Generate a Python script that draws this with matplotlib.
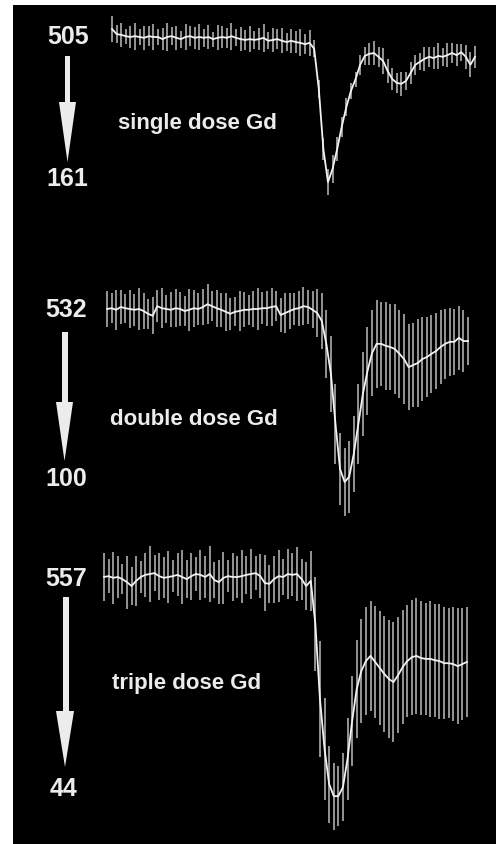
import matplotlib
matplotlib.use("Agg")
import matplotlib.pyplot as plt
from matplotlib.patches import Polygon, Rectangle
import numpy as np

# ---------------- data ----------------
labels = ["single dose Gd", "double dose Gd", "triple dose Gd"]
start_values = [505, 532, 557]
end_values = [161, 100, 44]

mean_single = [524, 512, 510, 507, 505, 507, 505, 503, 507, 505, 505, 500, 505, 507, 503, 500, 505, 507, 503, 505,
               503, 505, 500, 503, 505, 503, 507, 503, 500, 498, 500, 498, 500, 503, 496, 498, 500, 496, 493, 496,
               493, 491, 488, 491,
               477, 382, 239, 161, 192, 239, 292, 339, 377, 405, 439, 460, 465, 467, 458, 448, 424, 405, 396, 394,
               401, 420, 439, 446, 453, 458, 455, 460, 458, 462, 467, 462, 469, 458, 439, 458]
err_single = [30, 22, 28, 18, 26, 32, 20, 28, 24, 30, 18, 26, 34, 22, 28, 20, 30, 24, 26, 32,
              22, 28, 18, 30, 26, 24, 32, 20, 28, 24, 30, 22, 26, 34, 20, 28, 24, 30, 22, 28,
              26, 32, 24, 30,
              20, 22, 26, 30, 34, 28, 24, 22, 20, 18, 24, 22, 26, 28, 24, 30, 28, 26, 24, 28,
              22, 26, 24, 20, 28, 24, 26, 30, 22, 28, 24, 26, 20, 28, 30, 26]

mean_double = [532, 534, 530, 537, 534, 532, 530, 532, 527, 520, 515, 539, 534, 532, 530, 534, 532, 527, 530, 534,
               532, 537, 544, 539, 534, 530, 525, 520, 525, 527, 530, 530, 532, 532, 534, 534, 537, 539, 517, 522,
               527, 532, 534, 539, 537, 530,
               522, 502, 445, 370, 245, 132, 100, 113, 170, 245, 320, 377, 422, 445, 445, 440, 437, 432, 420, 407,
               387, 392, 397, 407, 412, 420, 427, 437, 445, 450, 450, 460, 452, 452]
err_double = [45, 38, 50, 42, 36, 48, 40, 52, 44, 38, 46, 40, 50, 36, 44, 48, 42, 38, 52, 46,
              40, 44, 50, 38, 46, 42, 48, 40, 36, 50, 44, 38, 46, 52, 40, 44, 48, 38, 42, 50,
              46, 40, 44, 48, 42, 46,
              60, 70, 85, 95, 100, 90, 85, 90, 95, 100, 105, 110, 108, 110, 105, 110, 108, 112, 110, 112,
              108, 105, 110, 104, 100, 98, 95, 92, 88, 85, 82, 80, 78, 60]

mean_triple = [557, 559, 555, 557, 552, 545, 536, 548, 557, 562, 564, 566, 559, 555, 557, 559, 562, 557, 552, 559,
               564, 562, 557, 564, 550, 545, 555, 559, 557, 557, 559, 562, 564, 566, 559, 543, 541, 552, 559, 557,
               564, 562, 564, 552, 536,
               548, 447, 272, 156, 74, 46, 46, 67, 133, 221, 296, 338, 361, 373, 359, 345, 331, 319, 312, 328,
               347, 361, 370, 373, 368, 366, 366, 363, 361, 356, 356, 354, 349, 354, 359]
err_triple = [55, 40, 60, 48, 35, 62, 45, 58, 38, 52, 65, 42, 55, 48, 60, 38, 50, 62, 45, 55,
              40, 58, 48, 65, 42, 52, 60, 38, 55, 48, 62, 45, 58, 40, 52, 65, 45, 55, 60, 42,
              58, 50, 62, 48, 55,
              70, 110, 135, 120, 90, 78, 70, 80, 95, 105, 115, 122, 125, 128, 130, 132, 135, 138, 140, 135,
              132, 130, 134, 135, 132, 130, 135, 132, 134, 130, 128, 132, 135, 130, 128]

means = [mean_single, mean_double, mean_triple]
errs = [err_single, err_double, err_triple]

# ---------------- layout (pixels) ----------------
W, H = 496, 845
fig = plt.figure(figsize=(W / 100, H / 100), dpi=100)
fig.patch.set_facecolor("white")

# overlay (bottom-most) in pixel coordinates: background + annotations
ov = fig.add_axes([0, 0, 1, 1], zorder=0)
ov.set_xlim(0, W)
ov.set_ylim(H, 0)
ov.axis("off")
ov.add_patch(Rectangle((13, 6), W - 13, H - 6, facecolor="black", edgecolor="none", zorder=0))

# per panel: axes box (x0, y0, x1, y1) px; first/last x px of series;
# (pixel y of start value, pixel y of end value)
panel_boxes = [(100, 8, 490, 210), (95, 280, 490, 530), (95, 535, 490, 835)]
x_ranges = [(112, 475), (107, 468), (104, 467)]
y_anchor = [(38, 183), (310, 483), (578, 798)]

line_col = "#f2f2f2"
bar_col = "#bdbdbd"

for k in range(3):
    x0, y0, x1, y1 = panel_boxes[k]
    ax = fig.add_axes([x0 / W, 1 - y1 / H, (x1 - x0) / W, (y1 - y0) / H], zorder=2)
    ax.set_facecolor("none")
    ax.axis("off")
    m = np.array(means[k], float)
    e = np.array(errs[k], float)
    n = len(m)
    idx = np.arange(n)
    xa, xb = x_ranges[k]
    dx = (xb - xa) / (n - 1)
    ax.set_xlim((x0 - xa) / dx, (x1 - xa) / dx)
    yb, ym = y_anchor[k]
    vb, vm = start_values[k], end_values[k]
    kk = (vb - vm) / (ym - yb)
    ax.set_ylim(vb - (y1 - yb) * kk, vb + (yb - y0) * kk)
    ax.vlines(idx, m - e, m + e, color=bar_col, lw=1.1, zorder=2)
    ax.plot(idx, m, color=line_col, lw=1.3, zorder=3)

txt_col = "#ececec"
num_pos = [((68, 37), (67, 179)), ((66, 310), (66, 479)), ((66, 579), (63, 789))]
label_pos = [(118, 123), (110, 420), (112, 684)]
# arrows: shaft x-left, x-right, y-top, head y, head x-left, x-right, tip y
arrows = [(65, 70, 57, 103, 59, 76, 163),
          (62, 68, 333, 403, 56, 73, 462),
          (63, 69, 598, 712, 56, 74, 768)]

for k in range(3):
    (sx, sy), (ex, ey) = num_pos[k]
    ov.text(sx, sy, str(start_values[k]), color=txt_col, fontsize=18, fontweight="bold",
            family="Liberation Sans", ha="center", va="center", zorder=3)
    ov.text(ex, ey, str(end_values[k]), color=txt_col, fontsize=18, fontweight="bold",
            family="Liberation Sans", ha="center", va="center", zorder=3)
    lx, ly = label_pos[k]
    ov.text(lx, ly, labels[k], color=txt_col, fontsize=16, fontweight="bold",
            family="Liberation Sans", ha="left", va="center", zorder=3)
    xl, xr, yt, yh, hl, hr, tip = arrows[k]
    cx = (hl + hr) / 2
    poly = [(xl, yt), (xr, yt), (xr, yh), (hr, yh), (cx, tip), (hl, yh), (xl, yh)]
    ov.add_patch(Polygon(poly, closed=True, facecolor=txt_col, edgecolor="none", zorder=3))

fig.savefig("out.png", dpi=100, facecolor=fig.get_facecolor())
